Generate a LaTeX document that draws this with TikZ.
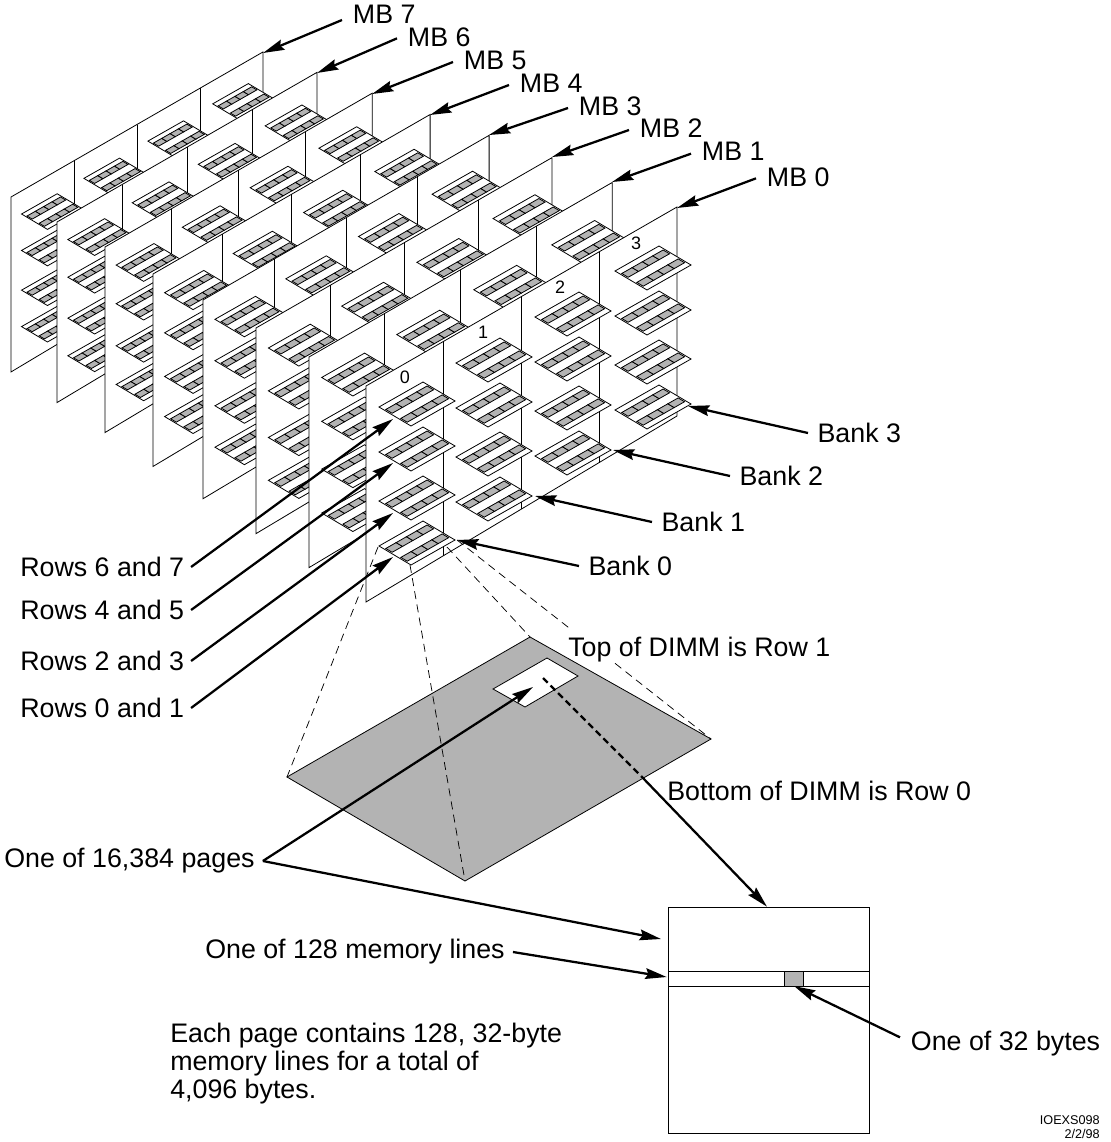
\documentclass[tikz,border=0pt]{standalone}
\usepackage{fontspec}
\setmainfont{Liberation Sans}
\usetikzlibrary{arrows.meta,positioning,calc}
\definecolor{ink}{HTML}{000000}
\definecolor{chipgray}{HTML}{B3B3B3}
\tikzset{
  thinline/.style={draw=ink, line width=0.6pt},
  chipcell/.style={draw=ink, fill=chipgray, line width=0.6pt},
  guide/.style={draw=ink, line width=0.55pt, dash pattern=on 6pt off 4pt},
  callout/.style={draw=ink, line width=1.7pt, -{Stealth[length=16pt,width=8pt,inset=2pt]}},
  biglabel/.style={font=\fontsize{20.1}{24}\selectfont, inner ysep=0pt, inner xsep=0pt},
  banknum/.style={font=\fontsize{13.5}{16}\selectfont, inner sep=0pt},
  dimm/.pic={
    \begin{scope}[shift={(-28.5pt,-2.25pt)},x={(33pt,18.75pt)},y={(24pt,-14.25pt)}]
      \draw[thinline,fill=white] (0,0) -- (1,0) -- (1,1) -- (0,1) -- cycle;
      \foreach \vv in {.17,.64} {
        \foreach \uu in {.03,.265,.5,.735} {
          \draw[chipcell] (\uu,\vv) -- (\uu+.235,\vv) -- (\uu+.235,\vv+.2) -- (\uu,\vv+.2) -- cycle;
        }
      }
    \end{scope}
  }
}
\begin{document}
\begin{tikzpicture}[x=0.75pt,y=-0.75pt]
  \useasboundingbox (0,0) rectangle (1110,1142);
  % memory boards, back to front
  \foreach \lx/\ty/\sc in {11/197/.81,57/222/.836,105/247/.859,153/274/.891,203/300/.92,256/328/.952,309/357/.975,366/386/1} {
    \begin{scope}[shift={(\lx,\ty)},scale=\sc]
      \draw[thinline,fill=white] (0,0) -- (311,-179) -- (311,30) -- (0,216) -- cycle;
      \foreach \cc in {.25,.5,.75} {
        \draw[thinline] ({\cc*311},{-\cc*179}) -- ({\cc*311},{216-\cc*186});
      }
      \foreach \px/\py in {51/18,128/-26,207/-72,287/-118} {
        \foreach \ry in {0,45,94,139} {
          \pic[transform shape] at (\px,\py+\ry) {dimm};
        }
      }
    \end{scope}
  }
  \node[banknum] (bank0) at (405,377) {0};
  \node[banknum] (bank1) at (483,332) {1};
  \node[banknum] (bank2) at (560,287) {2};
  \node[banknum] (bank3) at (636,243) {3};
  % enlarged DIMM
  \coordinate (dimmleft) at (378,547);
  \coordinate (dimmtop) at (447,547);
  \coordinate (dimmright) at (457,540);
  \coordinate (dimmbottom) at (410,565);
  \coordinate (bigleft) at (287,777);
  \coordinate (bigtop) at (530,637);
  \coordinate (bigright) at (711,739);
  \coordinate (bigbottom) at (465,881);
  \draw[thinline,fill=chipgray] (bigleft) -- (bigtop) -- (bigright) -- (bigbottom) -- cycle;
  \draw[thinline,fill=white] (493,689) -- (547,658) -- (578,676) -- (525,707) -- cycle;
  \draw[guide] (dimmleft) -- (bigleft);
  \draw[guide] (dimmbottom) -- (bigbottom);
  \draw[guide] (dimmtop) -- (bigtop);
  \coordinate (gapa) at (571.7,630);
  \coordinate (gapb) at (615,663.3);
  \draw[guide] (dimmright) -- (gapa);
  \draw[guide] (gapb) -- (bigright);
  \node[biglabel,anchor=west] (toplabel) at (568,650) {Top of DIMM is Row 1};
  \node[biglabel,anchor=west] (botlabel) at (667,791) {Bottom of DIMM is Row 0};
  % page
  \draw[thinline,fill=white] (668,907) rectangle (869,1133);
  \draw[thinline] (668,971) -- (869,971);
  \draw[thinline] (668,986) -- (869,986);
  \draw[thinline,fill=chipgray] (784,971) rectangle (803,986);
  % labels and arrows
  \foreach \i/\lx/\ly/\dy/\tx/\ty in {7/342/14/4.5/263/53,6/397/37/1/317/73,5/453/60/1.5/372/94,4/509/83/1.5/430/115,3/568/106/1.5/489/135,2/629/128/1.5/552/157,1/691/151/2/612/182,0/756/177/1/677/208} {
    \coordinate (tipmb\i) at (\tx,\ty);
    \node[biglabel,anchor=west,inner xsep=8pt] (lblmb\i) at (\lx,\ly) {MB \i};
    \draw[callout] ([yshift=-\dy pt]lblmb\i.west) -- (tipmb\i);
  }
  \foreach \i/\lx/\ly/\tx/\ty in {3/808/433/688/406,2/730/476/613/450,1/652/522/535/496,0/579/566/457/540} {
    \coordinate (tipbk\i) at (\tx,\ty);
    \node[biglabel,anchor=west,inner xsep=7pt] (lblbk\i) at (\lx,\ly) {Bank \i};
    \draw[callout] (lblbk\i.west) -- (tipbk\i);
  }
  \foreach \nm/\ly/\tx/\ty in {6 and 7/567/393/419,4 and 5/610/393/463,2 and 3/661/393/513,0 and 1/708/393/557} {
    \coordinate (tiprow\ly) at (\tx,\ty);
    \node[biglabel,anchor=west,inner xsep=0pt] (lblrow\ly) at (20,\ly) {Rows \nm};
    \draw[callout] ([xshift=5pt]lblrow\ly.east) -- (tiprow\ly);
  }
  % page callouts
  \node[biglabel,anchor=west] (pages) at (4,861) {One of 16,384 pages};
  \coordinate (pagefrom) at ($(pages.east)+(6pt,0pt)$);
  \coordinate (pagehole) at (533,687);
  \coordinate (pageedge) at (661,939);
  \draw[callout] (pagefrom) -- (pagehole);
  \draw[callout] (pagefrom) -- (pageedge);
  \coordinate (holemid) at (543,678);
  \coordinate (gridexit) at (641.7,776.7);
  \coordinate (pagetop) at (767,906.7);
  \draw[draw=ink,line width=1.7pt,dash pattern=on 5pt off 3pt] (holemid) -- (gridexit);
  \draw[callout] (gridexit) -- (pagetop);
  \node[biglabel,anchor=west] (linelabel) at (205,952) {One of 128 memory lines};
  \coordinate (linetip) at (666.7,977);
  \draw[callout] ($(linelabel.east)+(6pt,0pt)$) -- (linetip);
  \node[biglabel,anchor=west,inner xsep=8pt] (bytelabel) at (900,1044) {One of 32 bytes};
  \coordinate (bytetip) at (794,986);
  \draw[callout] ([yshift=5pt]bytelabel.west) -- (bytetip);
  \node[biglabel,font=\fontsize{20.1}{21}\selectfont,anchor=north west,align=left] (note) at (170,1023) {Each page contains 128, 32-byte\\memory lines for a total of\\4,096 bytes.};
  \node[biglabel,font=\fontsize{9.5}{10.5}\selectfont,anchor=north east,align=right] (stamp) at (1100,1115.5) {IOEXS098\\2/2/98};
\end{tikzpicture}
\end{document}
